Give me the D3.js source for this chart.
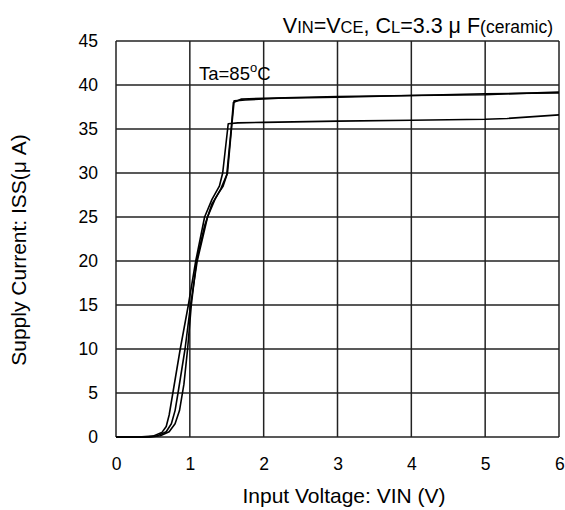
<!DOCTYPE html>
<html>
<head>
<meta charset="utf-8">
<script src="https://cdn.jsdelivr.net/npm/d3@7"></script>
<style>
  body { margin: 0; background: #fff; }
  text { font-family: "Liberation Sans", Arial, sans-serif; fill: #000; }
</style>
</head>
<body>
<div id="chart"></div>
<script>
// tick values
var xTicks = [0, 1, 2, 3, 4, 5, 6];
var yTicks = [0, 5, 10, 15, 20, 25, 30, 35, 40, 45];

// three measured curves (VIN, ISS)
var curveA = [
  [0, 0], [0.45, 0], [0.6, 0.15], [0.72, 0.6], [0.8, 1.5], [0.86, 3], [0.92, 6],
  [0.97, 10], [1.02, 15], [1.09, 20], [1.2, 24], [1.3, 26.5], [1.38, 27.6],
  [1.45, 28.5], [1.51, 30], [1.57, 35.6], [1.6, 38.2], [1.75, 38.3], [2.2, 38.5],
  [3, 38.6], [4, 38.8], [5, 38.9], [6, 39.2]
];
var curveB = [
  [0, 0], [0.3, 0], [0.5, 0.1], [0.62, 0.5], [0.68, 1.2], [0.72, 2.5], [0.77, 5],
  [0.87, 10], [0.98, 15], [1.08, 20], [1.2, 25], [1.3, 27], [1.4, 28.5],
  [1.445, 30], [1.52, 35.6], [1.65, 35.7], [2, 35.75], [3, 35.9], [4, 36.0],
  [5, 36.1], [5.3, 36.2], [6, 36.6]
];
var curveC = [
  [0, 0], [0.4, 0], [0.55, 0.1], [0.68, 0.6], [0.75, 1.5], [0.8, 3], [0.84, 5],
  [0.935, 10], [1.01, 15], [1.1, 20], [1.24, 25], [1.34, 27], [1.42, 28.2],
  [1.5, 29.8], [1.56, 35], [1.59, 38.0], [1.7, 38.4], [2, 38.5], [3, 38.7],
  [4, 38.8], [5, 39.0], [6, 39.1]
];
var curves = [curveA, curveB, curveC];

var W = 565, H = 510;
var margin = {top: 41, right: 6, bottom: 73, left: 116};
var width = W - margin.left - margin.right,
    height = H - margin.top - margin.bottom;

var svg = d3.select("#chart").append("svg")
    .attr("width", W)
    .attr("height", H);

var g = svg.append("g")
    .attr("transform", "translate(" + margin.left + "," + margin.top + ")");

var x = d3.scaleLinear().domain([0, 6]).range([0, width]);
var y = d3.scaleLinear().domain([0, 45]).range([height, 0]);

// grid
g.selectAll(".vgrid").data(xTicks).enter().append("line")
  .attr("x1", function(d) { return x(d); })
  .attr("x2", function(d) { return x(d); })
  .attr("y1", 0).attr("y2", height)
  .attr("stroke", "#222").attr("stroke-width", 1.5);
g.selectAll(".hgrid").data(yTicks).enter().append("line")
  .attr("y1", function(d) { return y(d); })
  .attr("y2", function(d) { return y(d); })
  .attr("x1", 0).attr("x2", width)
  .attr("stroke", "#222").attr("stroke-width", 1.5);

// axes (labels only)
var xAxis = g.append("g")
  .attr("transform", "translate(0," + height + ")")
  .call(d3.axisBottom(x).tickValues(xTicks).tickFormat(d3.format("d"))
    .tickSize(0).tickPadding(21));
var yAxis = g.append("g")
  .call(d3.axisLeft(y).tickValues(yTicks).tickFormat(d3.format("d"))
    .tickSize(0).tickPadding(18));
[xAxis, yAxis].forEach(function(a) {
  a.select(".domain").remove();
  a.selectAll("text").attr("font-size", 17.5)
    .attr("font-family", "Liberation Sans, Arial, sans-serif").attr("fill", "#000");
});
// keep the last x label inside the picture
xAxis.selectAll("text").filter(function(d) { return d === 6; })
  .attr("text-anchor", "end").attr("dx", "0.3em");

// curves
var line = d3.line()
  .x(function(d) { return x(d[0]); })
  .y(function(d) { return y(d[1]); });
g.selectAll(".curve").data(curves).enter().append("path")
  .attr("d", line)
  .attr("fill", "none")
  .attr("stroke", "#000")
  .attr("stroke-width", 1.6)
  .attr("stroke-linejoin", "round");

// annotation
var ta = svg.append("text")
  .attr("x", 199).attr("y", 80)
  .attr("font-size", 18.5);
ta.append("tspan").text("Ta=85");
ta.append("tspan").attr("font-size", 13).attr("dy", -8).text("o");
ta.append("tspan").attr("dy", 8).text("C");

// condition title
var t = svg.append("text")
  .attr("x", 553).attr("y", 33)
  .attr("text-anchor", "end")
  .attr("font-size", 21.5);
t.append("tspan").text("V");
t.append("tspan").attr("font-size", 16.5).text("IN");
t.append("tspan").text("=V");
t.append("tspan").attr("font-size", 16.5).text("CE");
t.append("tspan").text(", C");
t.append("tspan").attr("font-size", 16.5).text("L");
t.append("tspan").text("=3.3 \u03bc F");
t.append("tspan").attr("font-size", 17.5).text("(ceramic)");

// axis titles
svg.append("text")
  .attr("x", 344).attr("y", 503)
  .attr("text-anchor", "middle")
  .attr("font-size", 21)
  .text("Input Voltage: VIN (V)");
svg.append("text")
  .attr("transform", "translate(26,250) rotate(-90)")
  .attr("text-anchor", "middle")
  .attr("font-size", 21)
  .text("Supply Current: ISS(\u03bc A)");
</script>
</body>
</html>
